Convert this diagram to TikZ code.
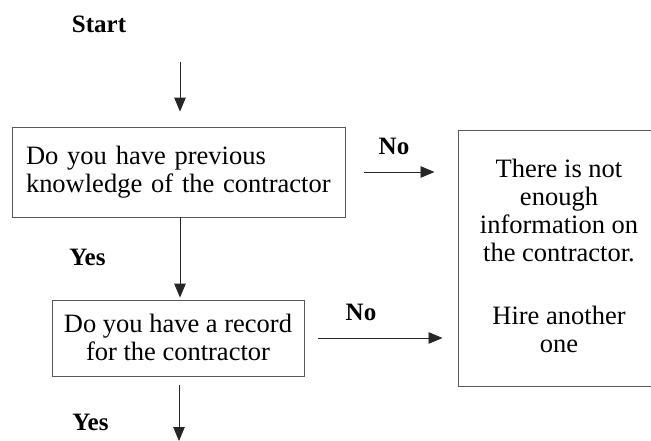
\documentclass[tikz,border=0pt]{standalone}
\usepackage{fontspec}
\setmainfont{Liberation Serif}
\usetikzlibrary{arrows.meta}
\begin{document}
\begin{tikzpicture}[x=1pt,y=-1pt,
  boxline/.style={line width=0.8pt,draw=black!65},
  arr/.style={line width=0.9pt, draw=black!85, -{Triangle[length=14pt,width=11.5pt]}},
  boxtext/.style={font=\fontsize{26.5}{28}\selectfont},
  lab/.style={font=\fontsize{25}{28}\selectfont\bfseries, inner sep=0pt}
]
\useasboundingbox (0,0) rectangle (651,441);
\clip (0,0) rectangle (651,441);

% title
\node[lab, anchor=base] (start) at (99,33) {Start};

% first question
\node[boxline, draw, boxtext, minimum width=333pt, minimum height=90pt,
      text width=305pt, inner xsep=14pt, align=left] (q1) at (178.5,172)
  {Do you have previous\\knowledge of the contractor};

% second question (text sits a little below the middle)
\node[boxline, draw, boxtext, minimum width=252pt, minimum height=76pt,
      text depth=2pt, align=center, inner sep=0pt] (q2) at (178,338)
  {Do you have a record\\for the contractor};

% outcome box (runs off the right edge)
\node[boxline, draw, minimum width=230pt, minimum height=256pt, anchor=north west,
      inner sep=0pt] (out) at (457.5,130) {};
\node[boxtext, align=center, inner sep=0pt, anchor=north] (outtxt) at (559,159)
  {There is not\\enough\\information on\\the contractor.\\[35pt]Hire another\\one};

% labels
\node[lab, anchor=base] (no1) at (394,155) {No};
\node[lab, anchor=base] (no2) at (361,320) {No};
\node[lab, anchor=base] (yes1) at (87.5,265) {Yes};
\node[lab, anchor=base] (yes2) at (90.5,430) {Yes};

% connectors
\coordinate (s1) at (180,62);
\draw[arr, shorten >=15pt] (s1) -- (s1 |- q1.north);
\draw[arr, shorten >=2pt] (q1.south -| s1) -- (q2.north -| s1);
\draw[arr, shorten <=19pt, shorten >=23pt] (q1.east) -- (q1.east -| out.west);
\draw[arr, shorten <=14pt, shorten >=15pt] (q2.east) -- (q2.east -| out.west);
\coordinate (end) at (179,441);
\draw[arr, shorten <=9pt] (q2.south -| end) -- (end);
\end{tikzpicture}
\end{document}
